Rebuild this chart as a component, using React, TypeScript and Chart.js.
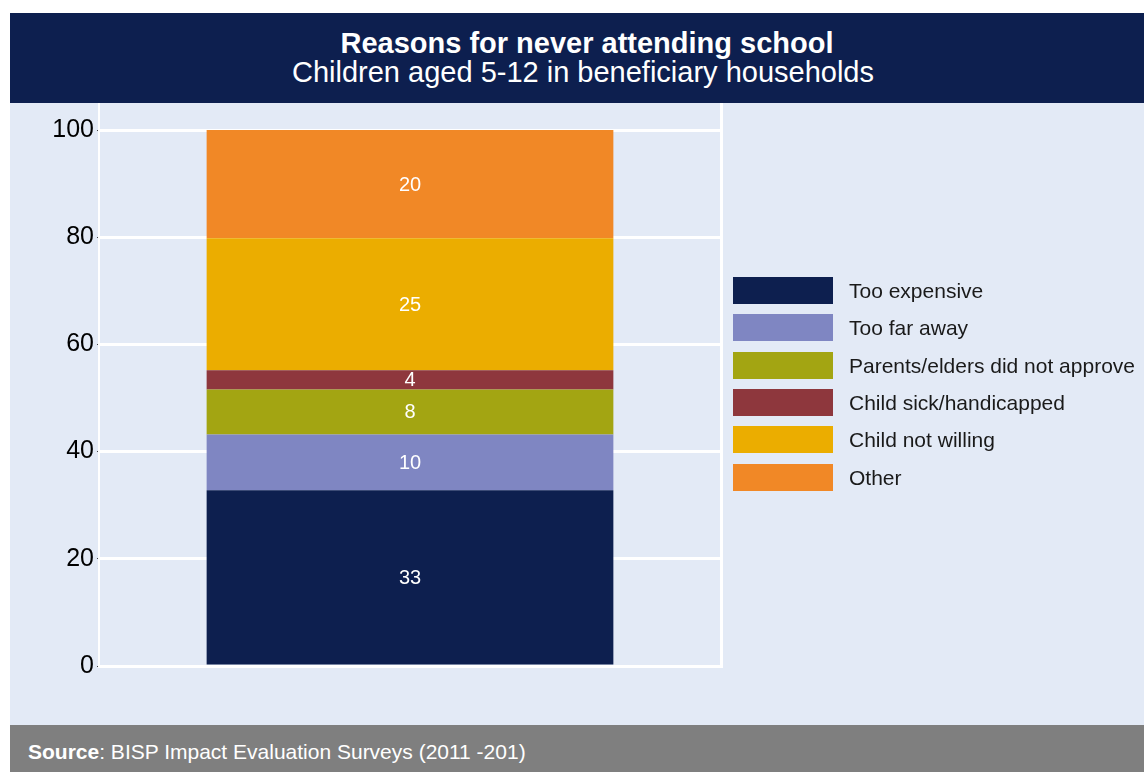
import React, { useEffect, useRef } from "react";
import { Chart, registerables } from "chart.js";

Chart.register(...registerables);

const categories = [""];
const seriesNames = [
  "Too expensive",
  "Too far away",
  "Parents/elders did not approve",
  "Child sick/handicapped",
  "Child not willing",
  "Other",
];
const seriesValues = [32.8, 10.4, 8.4, 3.6, 24.6, 20.2];
const seriesColors = ["#0D1F4F", "#7F86C2", "#A3A512", "#8E373D", "#EBAD00", "#F18826"];
const yTicks = [0, 20, 40, 60, 80, 100];

const FONT = '"Liberation Sans", Arial, Helvetica, sans-serif';

const framePlugin = {
  id: "frame",
  beforeDatasetsDraw(chart: any) {
    const { ctx, chartArea } = chart;
    ctx.save();
    ctx.strokeStyle = "#FFFFFF";
    ctx.lineWidth = 2;
    ctx.beginPath();
    ctx.moveTo(chartArea.left - 1, 0);
    ctx.lineTo(chartArea.left - 1, chartArea.bottom + 2);
    ctx.stroke();
    ctx.lineWidth = 3;
    ctx.beginPath();
    ctx.moveTo(chartArea.right + 1.5, 0);
    ctx.lineTo(chartArea.right + 1.5, chartArea.bottom + 2);
    ctx.stroke();
    ctx.restore();
  },
};

const labelPlugin = {
  id: "segLabels",
  afterDatasetsDraw(chart: any) {
    const { ctx } = chart;
    ctx.save();
    ctx.fillStyle = "#FFFFFF";
    ctx.font = `20px ${FONT}`;
    ctx.textAlign = "center";
    ctx.textBaseline = "middle";
    chart.data.datasets.forEach((ds: any, i: number) => {
      const meta = chart.getDatasetMeta(i);
      meta.data.forEach((el: any, j: number) => {
        const v = ds.data[j];
        const cy = (el.y + el.base) / 2;
        ctx.fillText(String(Math.round(v)), el.x, cy + 1);
      });
    });
    ctx.restore();
  },
};

function ChartCanvas() {
  const ref = useRef<HTMLCanvasElement>(null);
  useEffect(() => {
    if (!ref.current) return;
    const chart = new Chart(ref.current, {
      type: "bar",
      data: {
        labels: categories,
        datasets: seriesNames.map((name, i) => ({
          label: name,
          data: [seriesValues[i]],
          backgroundColor: seriesColors[i],
          borderWidth: 0,
          stack: "s",
          barPercentage: 1,
          categoryPercentage: 0.656,
        })),
      },
      options: {
        animation: false,
        responsive: false,
        maintainAspectRatio: false,
        layout: { padding: { left: 0, right: 424, top: 27, bottom: 59 } },
        plugins: {
          legend: { display: false },
          tooltip: { enabled: false },
          title: { display: false },
        },
        scales: {
          x: { stacked: true, display: false },
          y: {
            stacked: true,
            min: 0,
            max: 100,
            afterFit: (scale: any) => {
              scale.width = 90;
            },
            afterBuildTicks: (scale: any) => {
              scale.ticks = yTicks.map((v) => ({ value: v }));
            },
            border: { display: false },
            grid: {
              color: "#FFFFFF",
              lineWidth: 3,
              tickColor: "#444444",
              tickLength: 3,
              tickWidth: 1,
            },
            ticks: {
              color: "#000000",
              padding: 3,
              font: { family: FONT, size: 25 },
            },
          },
        },
      },
      plugins: [framePlugin, labelPlugin],
    });
    return () => chart.destroy();
  }, []);
  return (
    <canvas
      ref={ref}
      width={1134}
      height={622}
      style={{ position: "absolute", left: 10, top: 103, width: 1134, height: 622 }}
    />
  );
}

export default function App() {
  return (
    <div
      style={{
        position: "absolute",
        left: 0,
        top: 0,
        width: 1144,
        height: 772,
        overflow: "hidden",
        background: "#FFFFFF",
        fontFamily: FONT,
      }}
    >
      <div
        style={{
          position: "absolute",
          left: 10,
          top: 13,
          width: 1134,
          height: 90,
          background: "#0D1F4F",
        }}
      />
      <div
        style={{
          position: "absolute",
          left: 10,
          top: 27,
          width: 1154,
          textAlign: "center",
          color: "#FFFFFF",
          fontSize: 29,
          fontWeight: "bold",
          lineHeight: "32px",
          whiteSpace: "nowrap",
        }}
      >
        Reasons for never attending school
      </div>
      <div
        style={{
          position: "absolute",
          left: 6,
          top: 56,
          width: 1154,
          textAlign: "center",
          color: "#FFFFFF",
          fontSize: 29,
          lineHeight: "32px",
          whiteSpace: "nowrap",
        }}
      >
        Children aged 5-12 in beneficiary households
      </div>
      <div
        style={{
          position: "absolute",
          left: 10,
          top: 103,
          width: 1134,
          height: 622,
          background: "#E3EAF6",
        }}
      />
      <ChartCanvas />
      {seriesNames.map((name, i) => (
        <div key={name}>
          <div
            style={{
              position: "absolute",
              left: 733,
              top: 277 + i * 37.33,
              width: 100,
              height: 27,
              background: seriesColors[i],
            }}
          />
          <div
            style={{
              position: "absolute",
              left: 849,
              top: 277 + i * 37.33,
              height: 27,
              lineHeight: "27px",
              fontSize: 21,
              color: "#1A1A1A",
              whiteSpace: "nowrap",
            }}
          >
            {name}
          </div>
        </div>
      ))}
      <div
        style={{
          position: "absolute",
          left: 10,
          top: 725,
          width: 1134,
          height: 47,
          background: "#7F7F7F",
        }}
      />
      <div
        style={{
          position: "absolute",
          left: 28,
          top: 739,
          lineHeight: "26px",
          fontSize: 21,
          color: "#FFFFFF",
          whiteSpace: "nowrap",
        }}
      >
        <b>Source</b>: BISP Impact Evaluation Surveys (2011 -201)
      </div>
    </div>
  );
}
